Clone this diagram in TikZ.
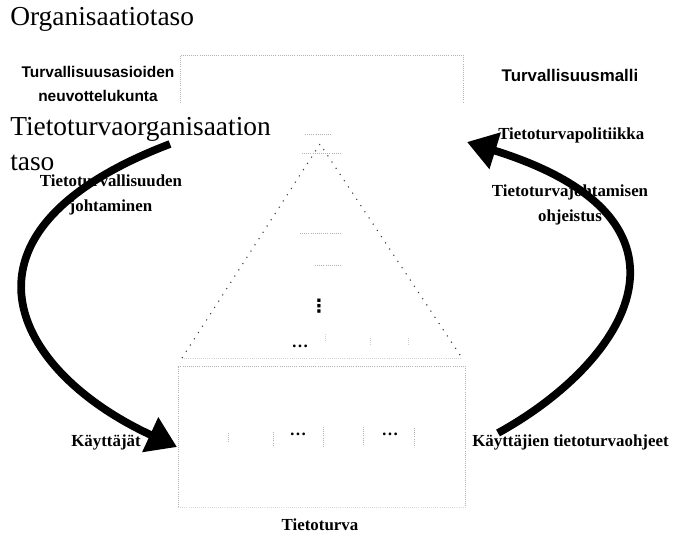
\documentclass[tikz,border=0pt]{standalone}
\usepackage{fontspec}
\setmainfont{Liberation Serif}
\newfontfamily\mallifont{Liberation Sans}
\newfontfamily\symfont{DejaVu Sans}
\usepackage{tikz}
\usetikzlibrary{arrows.meta}

\begin{document}
\begin{tikzpicture}[x=0.025cm, y=-0.025cm,
    big/.style={font=\fontsize{19.5}{25}\selectfont, align=left, inner sep=0pt},
    lbl/.style={font=\fontsize{12}{17.7}\selectfont\bfseries, align=center, inner sep=0pt},
    sanslbl/.style={font=\mallifont\fontsize{11}{17.5}\selectfont\bfseries, align=center, inner sep=0pt},
    dotlbl/.style={font=\fontsize{12}{12}\selectfont\bfseries, inner sep=0pt},
    faint/.style={gray!60, densely dotted, line width=0.5pt},
    edge/.style={black!75, line width=0.8pt, dash pattern=on 0.8pt off 4.5pt},
    brush/.style={line width=5.5pt, -{Triangle[length=21pt, width=26pt]}}]
          \useasboundingbox (0,0) rectangle (677,535);

          % Levels (left)
          \node[big, anchor=west] (orgtaso) at (10,19) {Organisaatiotaso};
          \node[sanslbl] (neuvottelu) at (98,84) {Turvallisuusasioiden\\neuvottelukunta};
          \node[big, anchor=north west] (ttorg) at (10,117) {Tietoturvaorganisaation\\taso};
          \node[lbl] (johtaminen) at (111,195) {Tietoturvallisuuden\\johtaminen};
          \node[lbl, anchor=east] (kayttajat) at (141,442) {Käyttäjät};

          % Documents (right)
          \node[sanslbl, font=\mallifont\fontsize{12}{14}\selectfont\bfseries] (malli) at (570,75) {Turvallisuusmalli};
          \node[lbl, anchor=west] (politiikka) at (498,135) {Tietoturvapolitiikka};
          \node[lbl] (ohjeistus) at (570,205) {Tietoturvajohtamisen\\ohjeistus};
          \node[lbl, anchor=west] (ohjeet) at (472,442) {Käyttäjien tietoturvaohjeet};
          \node[lbl] (tietoturva) at (320,525) {Tietoturva};

          % Organisation box
          \draw[faint] (180,103) -- (180,55) -- (463,55) -- (463,103);

          % Triangle
          \draw[faint] (305,134) -- (332,134);
          \draw[faint] (302,153) -- (342,153);
          \draw[edge] (182,358) -- (320,144) -- (462,358);
          \draw[faint, gray!35] (182,358) -- (462,358);
          \draw[faint] (300,233) -- (342,233);
          \draw[faint] (315,265) -- (342,265);
          \node[font=\symfont\fontsize{13}{13}\selectfont\bfseries, inner sep=0pt] (vdots) at (319,306) {⋮};
          \node[dotlbl] (hdots) at (300,346) {\dots};
          \foreach \x/\ya/\yb in {325/334/341, 370/338/346, 408/338/346}
              \draw[faint, gray!40] (\x,\ya) -- (\x,\yb);

          % Security box
          \draw[faint] (178,507) -- (178,366) -- (465,366) -- (465,507);
          \draw[faint, gray!30] (178,507) -- (465,507);
          \foreach \x/\ya/\yb in {228/433/442, 273/432/445, 323/427/447, 363/427/445, 414/428/447}
              \draw[faint] (\x,\ya) -- (\x,\yb);
          \node[dotlbl] (dotsa) at (298,434) {\dots};
          \node[dotlbl] (dotsb) at (390,434) {\dots};

          % Arrows
          \coordinate (ltail) at (170,144);
          \coordinate (lhead) at (177,447);
          \coordinate (rtail) at (498,433);
          \coordinate (rhead) at (467,142);
          \draw[brush] (ltail) .. controls (-61,232) and (12,371) .. (lhead);
          \draw[brush] (rtail) .. controls (627,362) and (718,220) .. (rhead);
    \end{tikzpicture}
\end{document}
